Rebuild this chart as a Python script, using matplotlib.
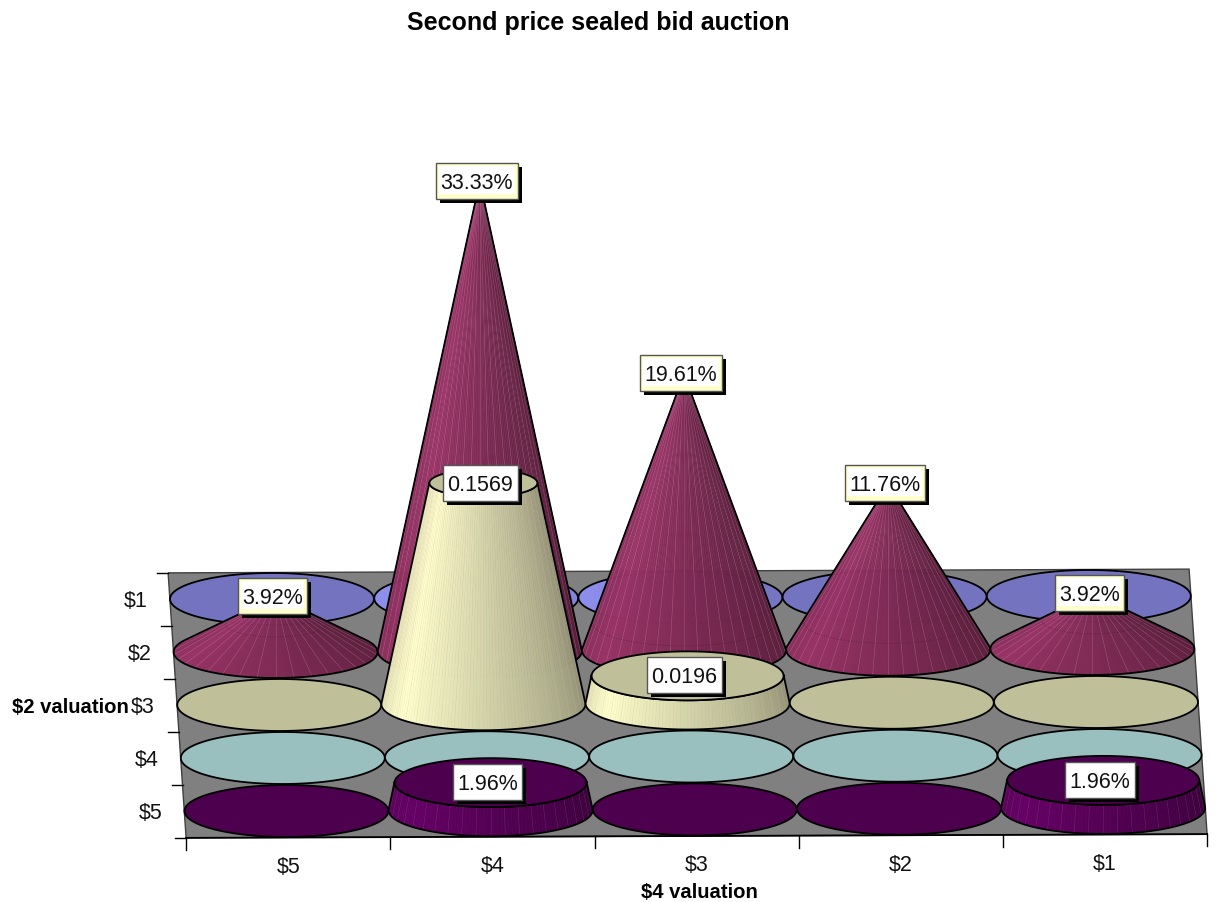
import numpy as np
import matplotlib
matplotlib.use("Agg")
import matplotlib.pyplot as plt
from matplotlib.patches import Polygon, Rectangle
from matplotlib.collections import PolyCollection, LineCollection

plt.rcParams['font.family'] = ['Liberation Sans', 'DejaVu Sans']

col_labels = ["$5", "$4", "$3", "$2", "$1"]
row_labels = ["$1", "$2", "$3", "$4", "$5"]

# probabilities per row ($2 valuation), columns run $5 .. $1
row_1 = [0, 0, 0, 0, 0]
row_2 = [0.0392, 0.3333, 0.1961, 0.1176, 0.0392]
row_3 = [0, 0.1569, 0.0196, 0, 0]
row_4 = [0, 0, 0, 0, 0]
row_5 = [0, 0.0196, 0, 0, 0.0196]

# how each row prints its value
row_formats = ["{:.2%}", "{:.2%}", "{:.4f}", "{:.2%}", "{:.2%}"]

side_colors = ["#9999FF", "#993366", "#FFFFCC", "#CCFFFF", "#660066"]
top_colors = ["#7373BF", "#73264D", "#BFBF99", "#99BFBF", "#4D004D"]
box_colors = ["#FFFFFF", "#FFFFCC", "#FFFFFF", "#FFFFFF", "#FFFFFF"]
pointed_row = 1

# the two back discs that catch more light, left and right tone
lit_discs = {(0, 1): ("#8E8EEE", "#8484DC"), (0, 2): ("#8E8EEE", "#7474C2")}

values = np.array([row_1, row_2, row_3, row_4, row_5])
vmax = values.max()

# floor projection
X0, Y0 = 272.0, 600.0
COL_DX, COL_DY = 204.2, -0.75
ROW_DX, ROW_DY = 3.6, 53.0
RX, RY = 102.0, 26.0
ZSCALE = 1410.0
GRID_Z = 28.0


def project(c, r):
    return X0 + c * COL_DX + r * ROW_DX, Y0 + c * COL_DY + r * ROW_DY


def shade(color, t):
    # t runs from 0 at the left silhouette to 1 at the right one
    rgb = np.array(matplotlib.colors.to_rgb(color))
    k = np.interp(t, [0, 0.22, 0.55, 1], [0.86, 1.0, 0.80, 0.55])
    return np.clip(rgb * k, 0, 1)


def draw_disc(ax, cx, cy, color, z, scale=1.0):
    t = np.linspace(0, 2 * np.pi, 120)
    pts = np.c_[cx + RX * scale * np.cos(t), cy + RY * scale * np.sin(t)]
    ax.add_patch(Polygon(pts, closed=True, fc=color, ec="black", lw=1.3, zorder=z))


def draw_lit_disc(ax, cx, cy, tones, z):
    left = np.array(matplotlib.colors.to_rgb(tones[0]))
    right = np.array(matplotlib.colors.to_rgb(tones[1]))
    xs = np.linspace(-1, 1, 61)
    strips, faces = [], []
    for a, b in zip(xs[:-1], xs[1:]):
        ha, hb = np.sqrt(1 - a * a), np.sqrt(1 - b * b)
        strips.append([(cx + RX * a, cy - RY * ha), (cx + RX * b, cy - RY * hb),
                       (cx + RX * b, cy + RY * hb), (cx + RX * a, cy + RY * ha)])
        faces.append(left + (right - left) * (a + 1) / 2)
    ax.add_collection(PolyCollection(strips, facecolors=faces, edgecolors=faces, linewidths=0.4, zorder=z))
    draw_disc(ax, cx, cy, "none", z + 0.1)


def draw_body(ax, cx, cy, v, row, z):
    color = side_colors[row]
    h = ZSCALE * v
    if row == pointed_row:
        ratio = 0.0
        full = h
    else:
        ratio = 1 - v / vmax
        full = ZSCALE * vmax
    extra = np.arcsin(min(RY / full, 0.95))
    t = np.linspace(np.pi + extra, -extra, 91)
    bx = cx + RX * np.cos(t)
    by = cy + RY * np.sin(t)
    tx = cx + RX * ratio * np.cos(t)
    ty = cy - h + RY * ratio * np.sin(t)

    polys, faces, seams = [], [], []
    for i in range(len(t) - 1):
        polys.append([(bx[i], by[i]), (bx[i + 1], by[i + 1]), (tx[i + 1], ty[i + 1]), (tx[i], ty[i])])
        faces.append(shade(color, i / (len(t) - 2)))
        if i % 4 == 1:
            seams.append([(bx[i], by[i]), (tx[i], ty[i])])
    ax.add_collection(PolyCollection(polys, facecolors=faces, edgecolors=faces, linewidths=0.4, zorder=z))
    seam_color = "#E8B8D0" if row != 4 else "#A060A0"
    ax.add_collection(LineCollection(seams, colors=seam_color, linewidths=0.4, alpha=0.3, zorder=z + 0.1))

    # faint ring where the cone crosses the first height step
    if row == pointed_row:
        f = 1 - GRID_Z / h
        ax.plot(cx + RX * f * np.cos(t), cy - GRID_Z + RY * f * np.sin(t), color="#301020",
                lw=0.6, ls=(0, (1, 2)), alpha=0.5, zorder=z + 0.15)

    outline = np.r_[np.c_[bx, by], np.c_[tx[::-1], ty[::-1]]]
    ax.add_patch(Polygon(outline, closed=True, fc="none", ec="black", lw=1.3, zorder=z + 0.2))
    if ratio > 0:
        draw_disc(ax, cx, cy - h, top_colors[row], z + 0.3, ratio)


def draw_label(ax, renderer, x, y, text, box_color, z):
    t = ax.text(x, y + 1.5, text, fontsize=15.5, color="#111111", ha="center", va="center",
                zorder=z + 3)
    bb = t.get_window_extent(renderer)
    w = bb.width / 2 + 4.5
    hh = 18.0
    ax.add_patch(Rectangle((x - w + 4, y - hh + 4), 2 * w, 2 * hh, fc="black", ec="none", zorder=z))
    ax.add_patch(Rectangle((x - w, y - hh), 2 * w, 2 * hh, fc=box_color, ec="#555555", lw=1, zorder=z + 1))
    if box_color != "#FFFFFF":
        ax.add_patch(Rectangle((x - w + 3, y - hh + 3), 2 * w - 6, 2 * hh - 8, fc="white", ec="none", zorder=z + 2))


fig = plt.figure(figsize=(12.16, 9.03), dpi=100)
ax = fig.add_axes([0, 0, 1, 1])
ax.set_xlim(0, 1216)
ax.set_ylim(903, 0)
ax.axis("off")
renderer = fig.canvas.get_renderer()

# floor and its edges
corners = [project(-0.5, -0.5), project(4.5, -0.5), project(4.5, 4.5), project(-0.5, 4.5)]
ax.add_patch(Polygon(corners, closed=True, fc="#808080", ec="#404040", lw=1, zorder=1))
ax.plot(*zip(corners[3], corners[2]), color="black", lw=1.3, zorder=1.5)

# ticks on both floor edges
for c in range(6):
    x, y = project(c - 0.5, 4.5)
    ax.plot([x, x], [y, y + 12], color="black", lw=1, zorder=1.5)
for r in range(6):
    x, y = project(-0.5, r - 0.5)
    ax.plot([x - 11, x], [y, y], color="black", lw=1, zorder=1.5)

for c, name in enumerate(col_labels):
    x, y = project(c, 4.5)
    ax.text(x, y + 29, name, fontsize=15.5, color="#111111", ha="center", va="center")
for r, name in enumerate(row_labels):
    x, y = project(-0.5, r)
    ax.text(x - 34, y + 1, name, fontsize=15.5, color="#111111", ha="center", va="center")

# back to front, left to right
z = 2
labels = []
for r in range(5):
    for c in range(5):
        cx, cy = project(c, r)
        v = values[r, c]
        if v > 0:
            draw_body(ax, cx, cy, v, r, z)
            labels.append((cx - 3, cy - ZSCALE * v - 0.5, row_formats[r].format(v), box_colors[r]))
        elif (r, c) in lit_discs:
            draw_lit_disc(ax, cx, cy, lit_discs[(r, c)], z)
        else:
            draw_disc(ax, cx, cy, top_colors[r], z)
        z += 1

for x, y, text, box in labels:
    draw_label(ax, renderer, x, y, text, box, 100)

ax.text(598, 23, "Second price sealed bid auction", fontsize=18, fontweight="bold", ha="center", va="center")
ax.text(699, 893, "$4 valuation", fontsize=14.6, fontweight="bold", ha="center", va="center")
ax.text(70, 708, "$2 valuation", fontsize=14.6, fontweight="bold", ha="center", va="center")

fig.savefig("out.png", dpi=100)
